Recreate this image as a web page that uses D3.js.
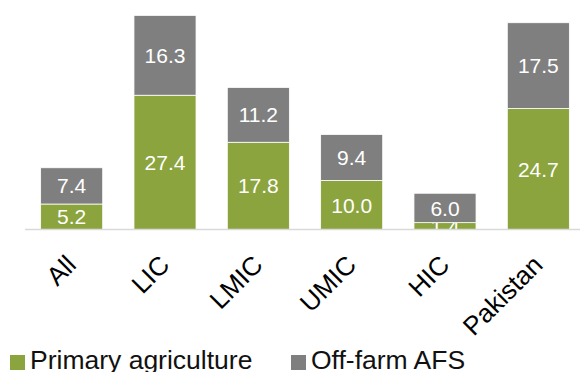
<!DOCTYPE html>
<html>
<head>
<meta charset="utf-8">
<script src="https://cdn.jsdelivr.net/npm/d3@7"></script>
<style>
  html, body { margin: 0; padding: 0; background: #fff; }
  svg { display: block; font-family: "Liberation Sans", Arial, sans-serif; }
</style>
</head>
<body>
<svg id="chart" width="580" height="372"></svg>
<script>
// Employment shares by income group (stacked)
const categories = ["All", "LIC", "LMIC", "UMIC", "HIC", "Pakistan"];
const primaryAgriculture = [5.2, 27.4, 17.8, 10.0, 1.4, 24.7];
const offFarmAFS = [7.4, 16.3, 11.2, 9.4, 6.0, 17.5];
const seriesNames = ["Primary agriculture", "Off-farm AFS"];
const seriesColors = ["#8ba43e", "#7f7f7f"];

const svg = d3.select("#chart");

const x = d3.scaleBand()
  .domain(categories)
  .range([25, 585])
  .paddingInner(0.335)
  .paddingOuter(0.1675);

const y = d3.scaleLinear()
  .domain([0, 45])
  .range([229.5, 9]);

const rows = categories.map((c, i) => ({
  category: c,
  primary: primaryAgriculture[i],
  offfarm: offFarmAFS[i]
}));

const stack = d3.stack().keys(["primary", "offfarm"]);
const layers = stack(rows);

const g = svg.append("g");

const layer = g.selectAll("g.layer")
  .data(layers)
  .join("g")
  .attr("class", "layer")
  .attr("fill", (d, i) => seriesColors[i]);

layer.selectAll("rect")
  .data(d => d)
  .join("rect")
  .attr("x", d => x(d.data.category))
  .attr("width", x.bandwidth())
  .attr("y", d => y(d[1]))
  .attr("height", d => y(d[0]) - y(d[1]))
  .attr("stroke", "#ffffff")
  .attr("stroke-width", 0.8);

// value labels centred in each segment
layer.selectAll("text")
  .data(d => d.map(s => ({ s, key: d.key })))
  .join("text")
  .attr("x", d => x(d.s.data.category) + x.bandwidth() / 2)
  .attr("y", d => (y(d.s[0]) + y(d.s[1])) / 2)
  .attr("dy", "0.36em")
  .attr("text-anchor", "middle")
  .attr("fill", "#ffffff")
  .attr("font-size", 21)
  .text(d => d.s.data[d.key].toFixed(1));

// category axis
const xAxis = d3.axisBottom(x).tickSize(0).tickPadding(0);
const axisG = svg.append("g")
  .attr("transform", `translate(0,${y(0)})`)
  .call(xAxis);
axisG.select(".domain")
  .attr("d", `M25,0H580`)
  .attr("stroke", "#d9d9d9")
  .attr("stroke-width", 1.6);
axisG.selectAll(".tick text")
  .attr("font-size", 26)
  .attr("font-family", "Liberation Sans, Arial, sans-serif")
  .attr("fill", "#000")
  .attr("text-anchor", "end")
  .attr("dy", null)
  .attr("y", null)
  .attr("transform", "translate(6,37) rotate(-45)");

// legend
const legend = svg.append("g")
  .selectAll("g")
  .data(seriesNames)
  .join("g")
  .attr("transform", (d, i) => `translate(${[10, 291][i]},355)`);
legend.append("rect")
  .attr("width", 15)
  .attr("height", 15)
  .attr("fill", (d, i) => seriesColors[i]);
legend.append("text")
  .attr("x", 20)
  .attr("y", 13.5)
  .attr("font-size", 26.5)
  .attr("fill", "#111")
  .text(d => d);
</script>
</body>
</html>
